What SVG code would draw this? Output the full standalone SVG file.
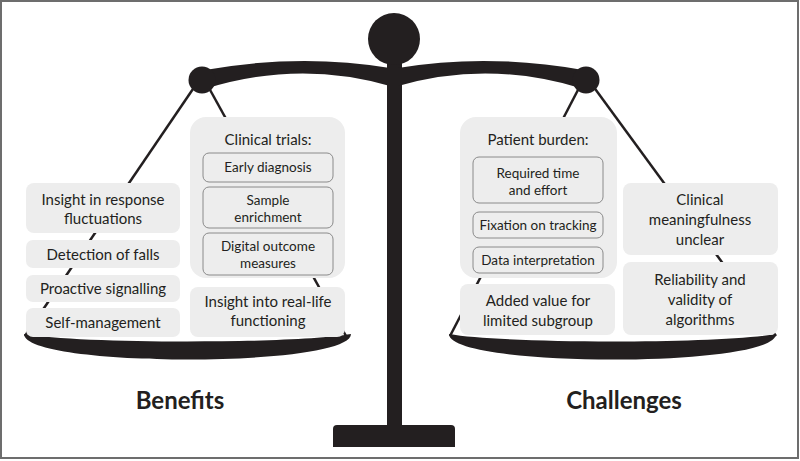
<svg xmlns="http://www.w3.org/2000/svg" width="800" height="461" viewBox="0 0 800 461">
<style>
.ink{fill:#231f20}
.str{stroke:#231f20;stroke-width:2.5;fill:none}
.box{fill:#ededed}
.inner{fill:#ededed;stroke:#8a8a8a;stroke-width:1}
text{font-family:Lato,"Open Sans","Liberation Sans",sans-serif;fill:#231f20;text-anchor:middle;font-size:15px}
.s{font-size:13.5px}
.h{font-weight:bold;font-size:24px}
</style>
<rect x="0" y="0" width="800" height="461" fill="#ffffff"/>
<rect x="1" y="1" width="797" height="457" fill="none" stroke="#6d6d6d" stroke-width="2"/>

<g id="scale">
  <g id="strings">
    <line class="str" x1="195" y1="86" x2="25" y2="336"/>
    <line class="str" x1="209" y1="88" x2="346" y2="336"/>
    <line class="str" x1="579" y1="88" x2="450" y2="336"/>
    <line class="str" x1="593" y1="86" x2="776" y2="336"/>
  </g>
  <rect class="ink" x="387" y="55" width="15" height="375"/>
  <path class="ink" d="M333,429 Q333,425 337,425 L451,425 Q455,425 455,429 L455,447 L333,447 Z"/>
  <circle class="ink" cx="394" cy="39" r="26"/>
  <path class="ink" d="M205,70 Q300,53 390,68 L390,86 Q300,60 208,88 Z"/>
  <path class="ink" d="M583,70 Q488,53 398,68 L398,86 Q488,60 580,88 Z"/>
  <circle class="ink" cx="202" cy="80" r="13.5"/>
  <circle class="ink" cx="586" cy="80" r="13.5"/>
  <path id="pan-left" class="ink" d="M24,334 C80,344 294,344 351,334 C351,368 24,368 24,334 Z"/>
  <path id="pan-right" class="ink" d="M449,334 C505,344 719,344 776,334 C776,368 449,368 449,334 Z"/>
</g>

<g id="benefits">
  <g id="insight-fluct"><rect class="box" x="26" y="183" width="154" height="50" rx="8"/>
    <text x="103" y="205">Insight in response</text><text x="103" y="224">fluctuations</text></g>
  <g id="falls"><rect class="box" x="26" y="240" width="154" height="28" rx="7"/>
    <text x="103" y="260">Detection of falls</text></g>
  <g id="proactive"><rect class="box" x="26" y="275" width="154" height="27" rx="7"/>
    <text x="103" y="294">Proactive signalling</text></g>
  <g id="selfman"><rect class="box" x="26" y="308" width="154" height="29" rx="7"/>
    <text x="103" y="328">Self-management</text></g>
  <g id="clinical-trials"><rect class="box" x="190" y="117" width="155" height="161" rx="16"/>
    <text x="268" y="145">Clinical trials:</text>
    <rect class="inner" x="203" y="153" width="130" height="29" rx="6"/>
    <text class="s" x="268" y="172">Early diagnosis</text>
    <rect class="inner" x="203" y="187" width="130" height="41" rx="6"/>
    <text class="s" x="268" y="205">Sample</text><text class="s" x="268" y="222">enrichment</text>
    <rect class="inner" x="203" y="233" width="130" height="42" rx="6"/>
    <text class="s" x="268" y="251">Digital outcome</text><text class="s" x="268" y="268">measures</text></g>
  <g id="real-life"><rect class="box" x="190" y="287" width="155" height="50" rx="8"/>
    <text x="268" y="307">Insight into real-life</text><text x="268" y="326">functioning</text></g>
  <text class="h" x="180" y="409">Benefits</text>
</g>

<g id="challenges">
  <g id="patient-burden"><rect class="box" x="460" y="117" width="157" height="161" rx="16"/>
    <text x="538" y="145">Patient burden:</text>
    <rect class="inner" x="473" y="157" width="130" height="46" rx="6"/>
    <text class="s" x="538" y="178">Required time</text><text class="s" x="538" y="195">and effort</text>
    <rect class="inner" x="473" y="212" width="130" height="26" rx="6"/>
    <text class="s" x="538" y="230">Fixation on tracking</text>
    <rect class="inner" x="473" y="247" width="130" height="26" rx="6"/>
    <text class="s" x="538" y="265">Data interpretation</text></g>
  <g id="added-value"><rect class="box" x="460" y="284" width="155" height="51" rx="8"/>
    <text x="538" y="306">Added value for</text><text x="538" y="326">limited subgroup</text></g>
  <g id="meaningful"><rect class="box" x="623" y="183" width="155" height="72" rx="8"/>
    <text x="700" y="205">Clinical</text><text x="700" y="225">meaningfulness</text><text x="700" y="245">unclear</text></g>
  <g id="reliability"><rect class="box" x="623" y="262" width="155" height="73" rx="8"/>
    <text x="700" y="285">Reliability and</text><text x="700" y="305">validity of</text><text x="700" y="325">algorithms</text></g>
  <text class="h" x="624" y="409">Challenges</text>
</g>
</svg>
